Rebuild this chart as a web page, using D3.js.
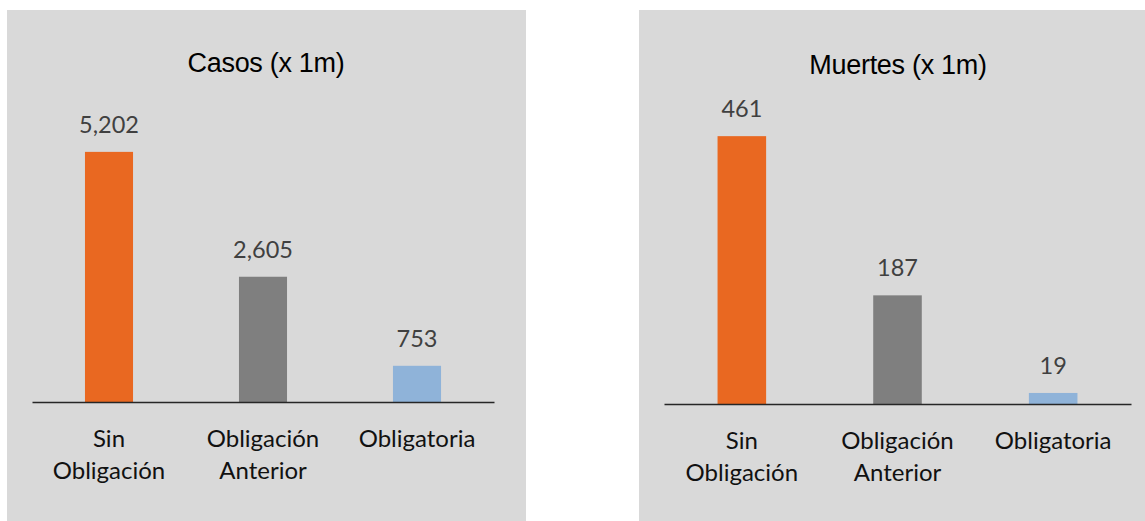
<!DOCTYPE html>
<html>
<head>
<meta charset="utf-8">
<script src="https://cdn.jsdelivr.net/npm/d3@7"></script>
<style>
  body { margin: 0; background: #fff; }
</style>
</head>
<body>
<div id="chart"></div>
<script>
// data
var categories = ["Sin Obligación", "Obligación Anterior", "Obligatoria"];
var labelLines = [["Sin", "Obligación"], ["Obligación", "Anterior"], ["Obligatoria"]];
var casos = [5202, 2605, 753];
var muertes = [461, 187, 19];
var barColors = ["#e96821", "#7f7f7f", "#8fb3d9"];

var W = 1145, H = 521;

var svg = d3.select("#chart").append("svg")
    .attr("width", W)
    .attr("height", H);

var panels = [
    {title: "Casos (x 1m)", values: casos, yMax: 6000,
     bg: [7, 10, 526, 521], x0: 32, x1: 494, base: 402, top: 113.5, titleX: 266},
    {title: "Muertes (x 1m)", values: muertes, yMax: 500,
     bg: [639, 10, 1145, 521], x0: 664, x1: 1131, base: 404, top: 113.5, titleX: 898}
];

var fmt = d3.format(",");

panels.forEach(function(p) {
    var g = svg.append("g");

    g.append("rect")
        .attr("x", p.bg[0]).attr("y", p.bg[1])
        .attr("width", p.bg[2] - p.bg[0])
        .attr("height", p.bg[3] - p.bg[1])
        .attr("fill", "#d9d9d9");

    var x = d3.scaleBand()
        .domain(categories)
        .range([p.x0, p.x1])
        .paddingInner(0.688)
        .paddingOuter(0.344);

    var y = d3.scaleLinear()
        .domain([0, p.yMax])
        .range([p.base, p.top]);

    g.append("text")
        .attr("x", p.titleX)
        .attr("y", p.base - 330)
        .attr("text-anchor", "middle")
        .style("font-family", "'Liberation Sans', Arial, sans-serif")
        .style("font-size", "27px")
        .style("letter-spacing", "-0.3px")
        .attr("fill", "#000")
        .text(p.title);

    g.selectAll("rect.bar")
        .data(p.values)
        .enter().append("rect")
        .attr("class", "bar")
        .attr("x", (d, i) => x(categories[i]))
        .attr("y", d => y(d))
        .attr("width", x.bandwidth())
        .attr("height", d => y(0) - y(d))
        .attr("fill", (d, i) => barColors[i]);

    g.selectAll("text.val")
        .data(p.values)
        .enter().append("text")
        .attr("class", "val")
        .attr("x", (d, i) => x(categories[i]) + x.bandwidth() / 2)
        .attr("y", d => y(d) - 19)
        .attr("text-anchor", "middle")
        .style("font-family", "Lato, 'Open Sans', sans-serif")
        .style("font-size", "23.5px")
        .attr("fill", "#404040")
        .text(d => fmt(d));

    // axis: line only, labels drawn below
    var axis = g.append("g")
        .attr("transform", "translate(0," + p.base + ")")
        .call(d3.axisBottom(x).tickSize(0).tickFormat(""));
    axis.select(".domain")
        .attr("stroke", "#262626")
        .attr("stroke-width", 1.5);

    categories.forEach(function(c, i) {
        var t = g.append("text")
            .attr("text-anchor", "middle")
            .style("font-family", "Lato, 'Open Sans', sans-serif")
            .style("font-size", "24px")
            .attr("fill", "#111");
        labelLines[i].forEach(function(line, j) {
            t.append("tspan")
                .attr("x", x(c) + x.bandwidth() / 2)
                .attr("y", p.base + 45 + j * 32)
                .text(line);
        });
    });
});
</script>
</body>
</html>
